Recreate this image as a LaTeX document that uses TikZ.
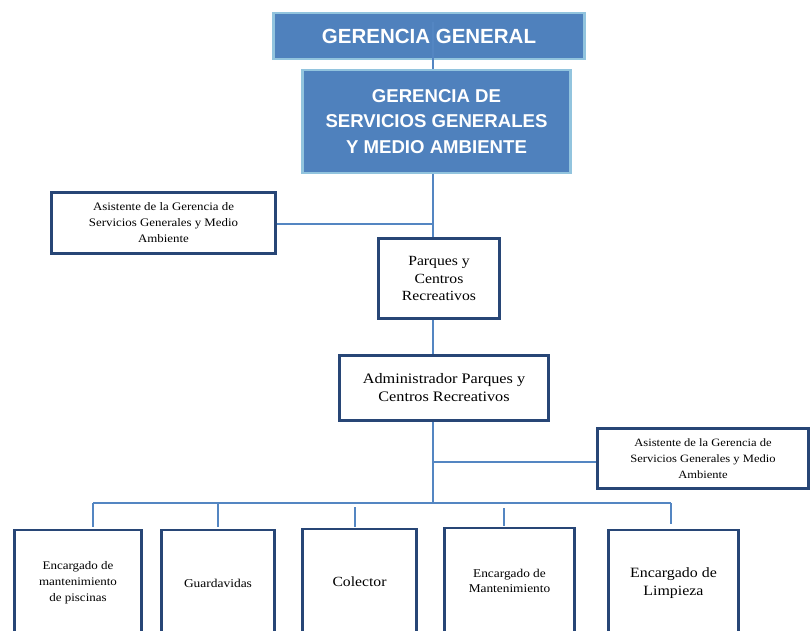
\documentclass[tikz,border=0pt]{standalone}
\usepackage{fontspec}
\setmainfont{Liberation Serif}[FakeStretch=1.12]
\newfontfamily\headfont{Liberation Sans}
\definecolor{headfill}{RGB}{79,129,189}
\definecolor{headborder}{RGB}{146,196,222}
\definecolor{unitborder}{RGB}{40,70,118}
\definecolor{linkcol}{RGB}{84,134,194}
\tikzset{
  head/.style={draw=headborder, line width=2.5pt, fill=headfill, text=white,
    font=\headfont\bfseries, align=center, inner sep=0pt},
  unit/.style={draw=unitborder, line width=2.6pt, fill=white, align=center, inner sep=0pt},
  link/.style={draw=linkcol, line width=1.8pt},
}
\begin{document}
\begin{tikzpicture}[x=1pt,y=-1pt]
\useasboundingbox (0,0) rectangle (811,631);
\clip (0,0) rectangle (811,631);
\fill[white] (0,0) rectangle (811,631);

% trunk coordinates
\coordinate (t0) at (433,22);
\coordinate (j1) at (433,224);
\coordinate (j2) at (433,462);
\coordinate (j3) at (433,503);
\coordinate (busL) at (93,503);
\coordinate (busR) at (671,503);
\coordinate (d1) at (93,503);  \coordinate (e1) at (93,527);
\coordinate (d2) at (218,503); \coordinate (e2) at (218,527);
\coordinate (d3) at (355,507); \coordinate (e3) at (355,527);
\coordinate (d4) at (504,508); \coordinate (e4) at (504,526);
\coordinate (d5) at (671,503); \coordinate (e5) at (671,524);

% head boxes
\node[head, minimum width=311pt, minimum height=46pt,
  font=\headfont\bfseries\fontsize{20.5}{24}\selectfont] (gg) at (429,36) {GERENCIA GENERAL};
\node[head, minimum width=268pt, minimum height=103pt,
  font=\headfont\bfseries\fontsize{18.6}{25.5}\selectfont] (gs) at (436.5,121.5)
  {GERENCIA DE\\SERVICIOS GENERALES\\Y MEDIO AMBIENTE};
\draw[link] (t0) -- (t0 |- gs.north);

% unit boxes
\node[unit, minimum width=224pt, minimum height=61pt,
  font=\fontsize{11.5}{16}\selectfont] (as1) at (163.5,223)
  {Asistente de la Gerencia de\\Servicios Generales y Medio\\Ambiente};
\node[unit, minimum width=121pt, minimum height=80pt,
  font=\fontsize{14}{17.5}\selectfont] (pq) at (439,278.5)
  {Parques y\\Centros\\Recreativos};
\node[unit, minimum width=209pt, minimum height=65pt,
  font=\fontsize{14.5}{18}\selectfont] (ad) at (444,388)
  {Administrador Parques y\\Centros Recreativos};
\node[unit, minimum width=211pt, minimum height=60pt,
  font=\fontsize{11.2}{16}\selectfont] (as2) at (703,458.5)
  {Asistente de la Gerencia de\\Servicios Generales y Medio\\Ambiente};

\node[unit, minimum width=127pt, minimum height=106pt,
  font=\fontsize{11.6}{16}\selectfont] (b1) at (78,583)
  {Encargado de\\mantenimiento\\de piscinas};
\node[unit, minimum width=113pt, minimum height=106pt,
  font=\fontsize{12}{16}\selectfont] (b2) at (218,583) {Guardavidas};
\node[unit, minimum width=114pt, minimum height=106pt,
  font=\fontsize{14}{18}\selectfont] (b3) at (359.5,582) {Colector};
\node[unit, minimum width=130pt, minimum height=106pt,
  font=\fontsize{11.9}{15}\selectfont] (b4) at (509.5,581)
  {Encargado de\\Mantenimiento};
\node[unit, minimum width=130pt, minimum height=106pt,
  font=\fontsize{14.2}{18}\selectfont] (b5) at (673.5,583)
  {Encargado de\\Limpieza};

% connectors
\draw[link] (gs.south -| j1) -- (pq.north -| j1);
\draw[link] (as1.east |- j1) -- (j1);
\draw[link] (pq.south -| j1) -- (ad.north -| j1);
\draw[link] (ad.south -| j1) -- (j3);
\draw[link] (j2) -- (as2.west |- j2);
\draw[link] (busL) -- (busR);
\draw[link] (d1) -- (e1);
\draw[link] (d2) -- (e2);
\draw[link] (d3) -- (e3);
\draw[link] (d4) -- (e4);
\draw[link] (d5) -- (e5);
\end{tikzpicture}
\end{document}
